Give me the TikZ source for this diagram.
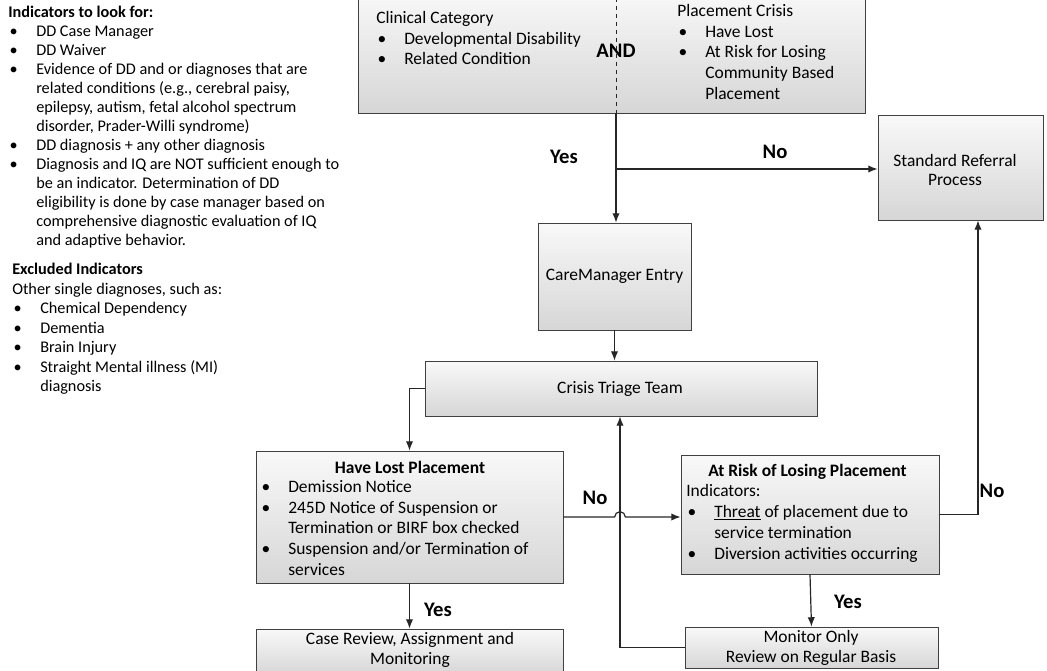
\documentclass[tikz,border=0pt]{standalone}
\usepackage{fontspec}
\setmainfont{Carlito}
\usetikzlibrary{fit,arrows.meta}

\tikzset{
  box/.style={draw=black!75, line width=0.6pt, inner sep=0pt, top color=gray!5, bottom color=gray!32},
  txt/.style={inner sep=0pt, align=left, font=\fontsize{13.1}{15.5}\selectfont},
  ctxt/.style={inner sep=0pt, align=center, font=\fontsize{13.1}{14.5}\selectfont},
  ans/.style={inner sep=0pt, font=\fontsize{15.5}{18}\selectfont\bfseries},
  line/.style={line width=0.9pt, black!85},
}
\newcommand\itm[1]{\makebox[21pt][l]{\hspace{1pt}\textbullet}#1}
\newcommand\nxt{\hspace*{21pt}}

\begin{document}
\begin{tikzpicture}[x=0.75pt,y=-0.75pt,>={Latex[length=7pt,width=5.5pt]}]
  \useasboundingbox (0,0) rectangle (1047,671);
  % notes on the left
  \node[txt, anchor=north west, font=\fontsize{12.2}{14.25}\selectfont] (ind) at (8,6)
    {\textbf{Indicators to look for:}\\
     \itm{DD Case Manager}\\
     \itm{DD Waiver}\\
     \itm{Evidence of DD and or diagnoses that are}\\
     \nxt related conditions (e.g., cerebral paisy,\\
     \nxt epilepsy, autism, fetal alcohol spectrum\\
     \nxt disorder, Prader-Willi syndrome)\\
     \itm{DD diagnosis + any other diagnosis}\\
     \itm{Diagnosis and IQ are NOT sufficient enough to}\\
     \nxt be an indicator. Determination of DD\\
     \nxt eligibility is done by case manager based on\\
     \nxt comprehensive diagnostic evaluation of IQ\\
     \nxt and adaptive behavior.};
  \node[txt, anchor=north west, font=\fontsize{12.2}{14.6}\selectfont] (excl) at (12,263)
    {\textbf{Excluded Indicators}\\
     Other single diagnoses, such as:\\
     \itm{Chemical Dependency}\\
     \itm{Dementia}\\
     \itm{Brain Injury}\\
     \itm{Straight Mental illness (MI)}\\
     \nxt diagnosis};
  % boxes
  \node[box, fit={(358,-10) (865,113)}] (crit) {};
  \node[box, fit={(878,115) (1043,220)}] (std) {};
  \node[box, fit={(538,223) (691,330)}] (cm) {};
  \node[box, fit={(425,361) (817,416)}] (ct) {};
  \node[box, fit={(256,451) (563,583)}] (hl) {};
  \node[box, fit={(256,629) (563,675)}] (cr) {};
  \node[box, fit={(681,455) (939,574)}] (ar) {};
  \node[box, fit={(685,627) (938,668)}] (mo) {};
  % box texts
  \coordinate (fork) at (616,169);
  \draw[black!85, dashed] (crit.north -| fork) -- (crit.south -| fork);
  \node[txt, anchor=north west] (clin) at (376,11)
    {Clinical Category\\
     \itm{Developmental Disability}\\
     \itm{Related Condition}};
  \node[txt, anchor=north west] (pc) at (677,4)
    {Placement Crisis\\
     \itm{Have Lost}\\
     \itm{At Risk for Losing}\\
     \nxt Community Based\\
     \nxt Placement};
  \node[ans] (and) at (616,51) {AND};
  \node[ctxt] (stdt) at (955,170) {Standard Referral\\Process};
  \node[ctxt] (cmt) at (cm) {CareManager Entry};
  \node[ctxt] (ctt) at (620,389) {Crisis Triage Team};
  \node[ctxt] (crt) at (410,650) {Case Review, Assignment and\\Monitoring};
  \node[ctxt] (mot) at (811,648) {Monitor Only\\Review on Regular Basis};
  \node[txt, font=\fontsize{13.1}{15.5}\selectfont\bfseries] (hlt) at (410,467) {Have Lost Placement};
  \node[txt, anchor=north west] (hll) at (260,480)
    {\itm{Demission Notice}\\
     \itm{245D Notice of Suspension or}\\
     \nxt Termination or BIRF box checked\\
     \itm{Suspension and/or Termination of}\\
     \nxt services};
  \node[txt, anchor=west, font=\fontsize{13.1}{15.5}\selectfont\bfseries] (art) at (708,472) {At Risk of Losing Placement};
  \node[txt, anchor=north west, font=\fontsize{13.1}{15.75}\selectfont] (arl) at (686,484)
    {Indicators:\\
     \itm{\underline{Threat} of placement due to}\\
     \nxt service termination\\
     \itm{Diversion activities occurring}};
  % connectors
  \coordinate (hop) at (620,517);
  \coordinate (rx) at (978,514);
  \draw[line] (crit.south -| fork) -- (fork);
  \draw[line,->] (fork) -- (fork |- cm.north);
  \draw[line,->] (fork) -- (fork -| std.west);
  \draw[line,->] (cm.south) -- (cm.south |- ct.north);
  \draw[line,->] (ct.west) -| (hl.north);
  \draw[line,->] (hl.south) -- (cr.north);
  \draw[line,->] (hl.east) -- ([xshift=-4pt]hop) arc[start angle=180,end angle=0,radius=4pt] -- (hop -| ar.west);
  \draw[line,->] (mo.west) -| (hop |- ct.south);
  \draw[line,->] (ar.south) -- (mo.north);
  \draw[line,->] (ar.east) -| (std.south -| rx);
  % answers
  \node[ans] (yes1) at (564,157) {Yes};
  \node[ans] (no1) at (775,152) {No};
  \node[ans] (no2) at (595,498) {No};
  \node[ans] (yes2) at (438,610) {Yes};
  \node[ans] (no3) at (992,491) {No};
  \node[ans] (yes3) at (848,602) {Yes};
\end{tikzpicture}
\end{document}
